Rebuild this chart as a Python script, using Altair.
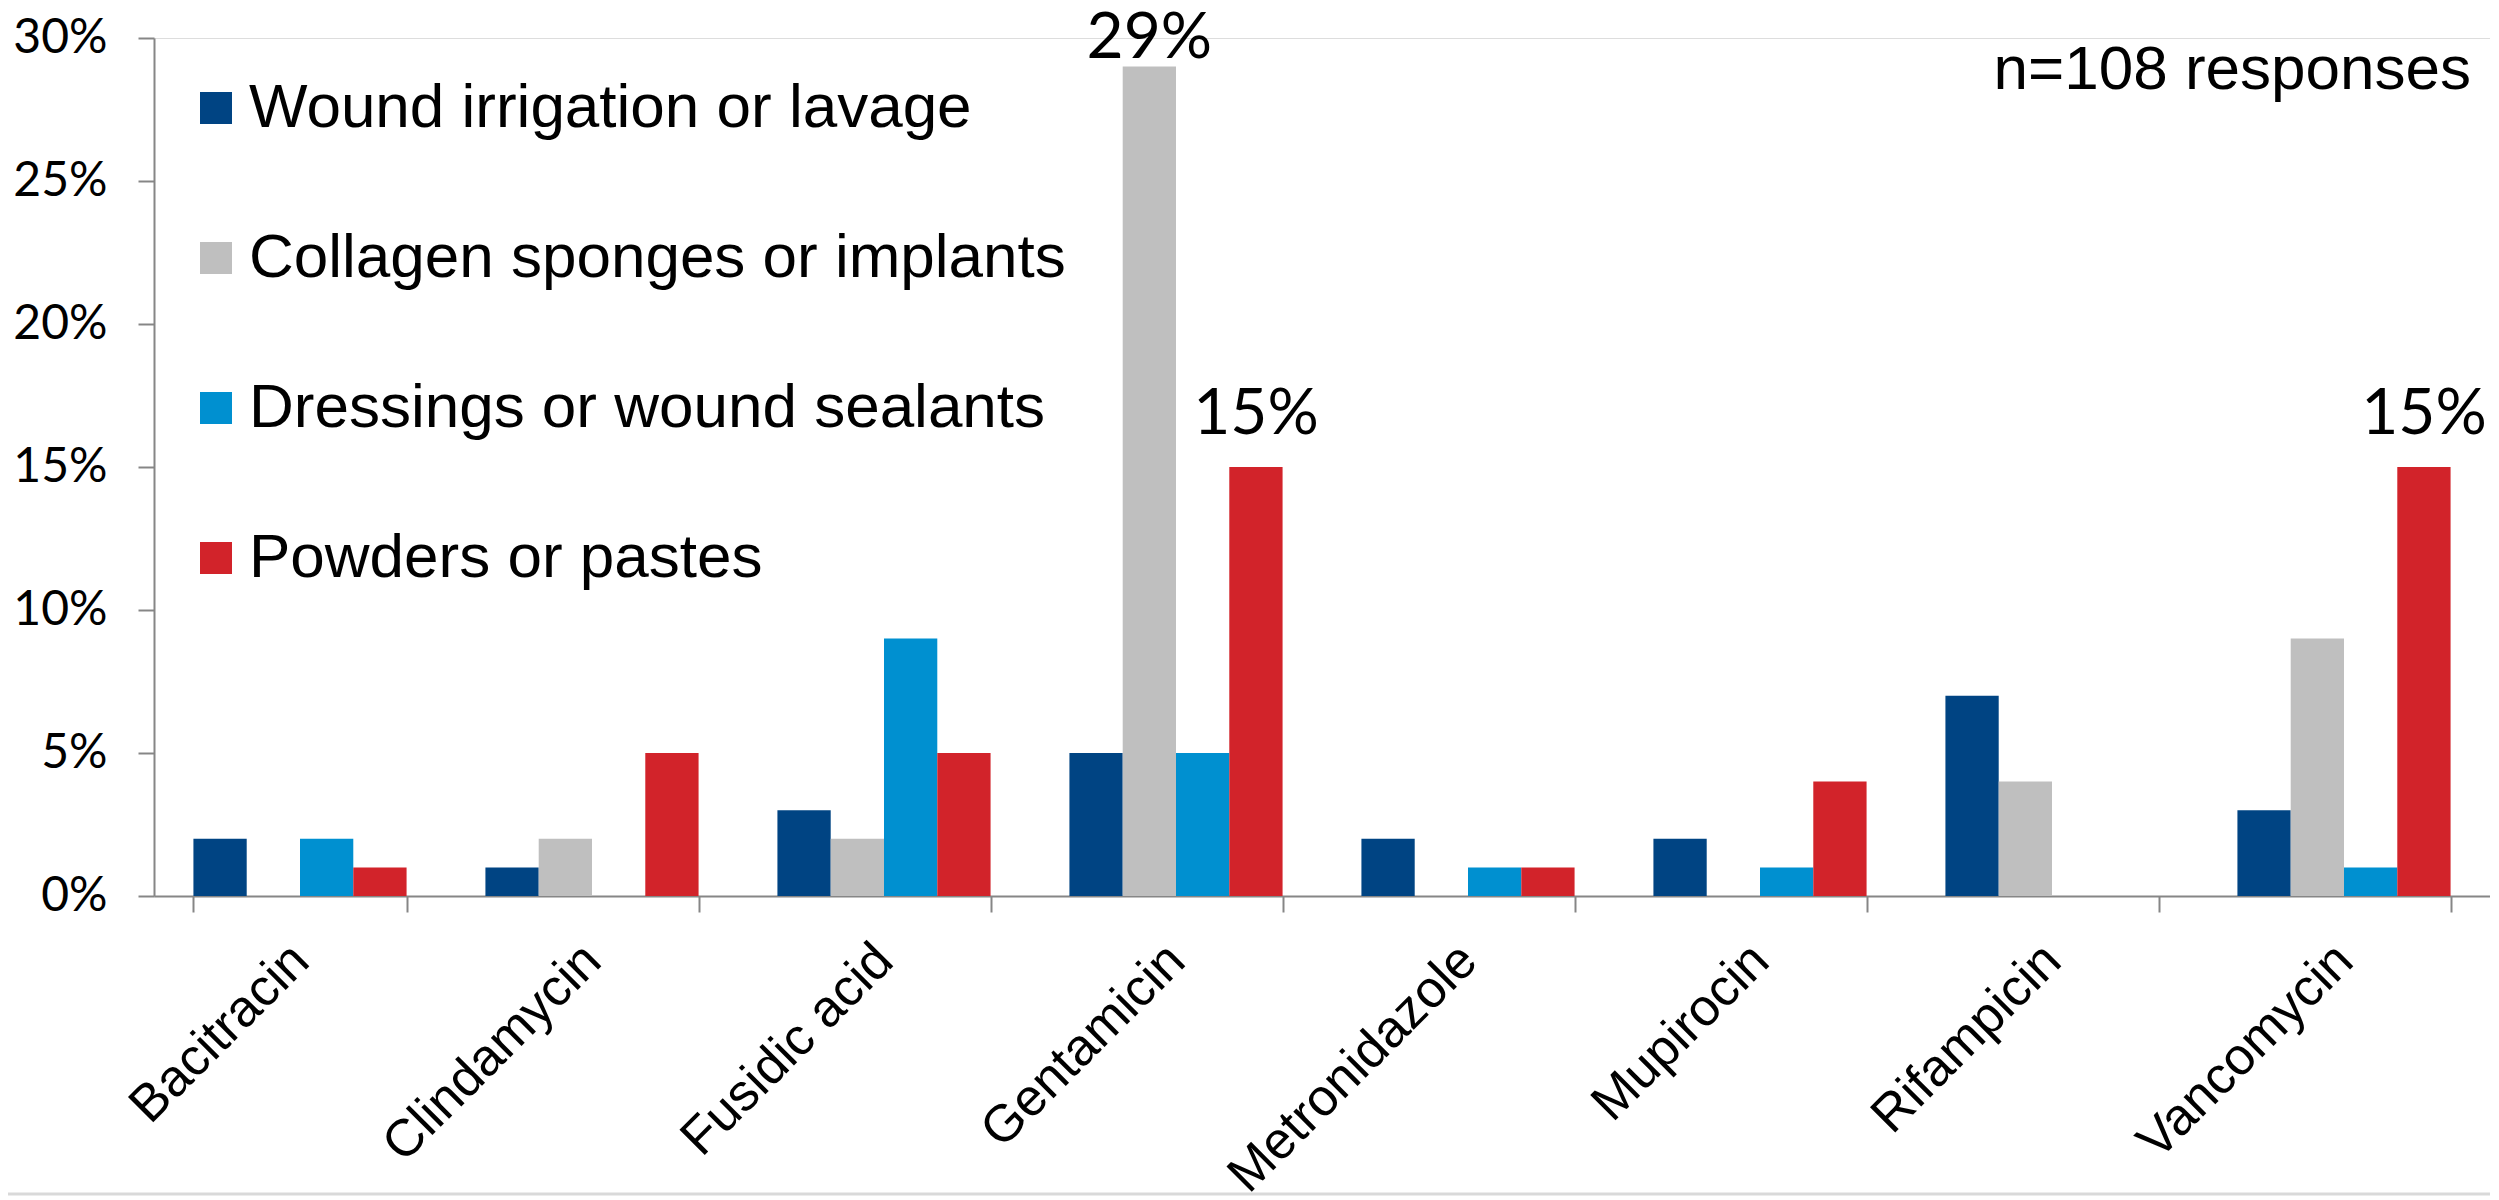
import altair as alt
import pandas as pd

categories = ["Bacitracin", "Clindamycin", "Fusidic acid", "Gentamicin",
              "Metronidazole", "Mupirocin", "Rifampicin", "Vancomycin"]
series = ["Wound irrigation or lavage", "Collagen sponges or implants",
          "Dressings or wound sealants", "Powders or pastes"]
colors = ["#004483", "#BFBFBF", "#0090D0", "#D2232A"]

wound = [2, 1, 3, 5, 2, 2, 7, 3]
collagen = [0, 2, 2, 29, 0, 0, 4, 9]
dressings = [2, 0, 9, 5, 1, 1, 0, 1]
powders = [1, 5, 5, 15, 1, 4, 0, 15]

# annotated bars: (category, series, label)
annotations = [("Gentamicin", "Collagen sponges or implants", "29%"),
               ("Gentamicin", "Powders or pastes", "15%"),
               ("Vancomycin", "Powders or pastes", "15%")]

y_ticks = [0, 5, 10, 15, 20, 25, 30]
note = "n=108 responses"

rows = []
for s, vals in zip(series, [wound, collagen, dressings, powders]):
    for c, v in zip(categories, vals):
        lab = ""
        for ac, as_, al in annotations:
            if ac == c and as_ == s:
                lab = al
        rows.append({"category": c, "series": s, "value": v, "label": lab})
df = pd.DataFrame(rows)

W = 2336
H = 858
GRAY = "#868686"

x_enc = alt.X("category:N", sort=categories,
              scale=alt.Scale(domain=categories, paddingInner=0.27, paddingOuter=0.135),
              axis=alt.Axis(title=None, labelAngle=-45, labelAlign="right",
                            labelBaseline="middle", labelFont="Liberation Sans",
                            labelFontSize=52, labelColor="black", labelPadding=40,
                            labelLimit=2000, labelOverlap=False, tickBand="extent",
                            tickSize=16, tickColor=GRAY, tickWidth=2,
                            domainColor=GRAY, domainWidth=2, grid=False))
xo_enc = alt.XOffset("series:N", sort=series, scale=alt.Scale(domain=series))
y_enc = alt.Y("value:Q", scale=alt.Scale(domain=[0, 30], nice=False),
              axis=alt.Axis(title=None, values=y_ticks, labelExpr="datum.value + '%'",
                            labelFont="Lato", labelFontSize=48, labelColor="black",
                            labelPadding=31, tickSize=16, tickColor=GRAY, tickWidth=2,
                            domainColor=GRAY, domainWidth=2, grid=False))

base = alt.Chart(df).encode(x=x_enc, xOffset=xo_enc, y=y_enc)

bars = base.mark_bar().encode(
    color=alt.Color("series:N", sort=series,
                    scale=alt.Scale(domain=series, range=colors),
                    legend=alt.Legend(title=None, orient="none", legendX=31, legendY=39,
                                      symbolType="square", symbolSize=1024,
                                      symbolStrokeWidth=0, symbolOpacity=1,
                                      labelFont="Liberation Sans", labelFontSize=62,
                                      labelColor="black", labelOffset=2,
                                      rowPadding=88, padding=0, labelLimit=2000))
)

text29 = base.transform_filter("datum.label == '29%'").mark_text(
    baseline="alphabetic", dy=-9, font="Lato", fontSize=64, color="black"
).encode(text="label:N")

text15 = base.transform_filter("datum.label == '15%'").mark_text(
    baseline="alphabetic", dy=-33, font="Lato", fontSize=64, color="black"
).encode(text="label:N")

note_layer = alt.Chart(pd.DataFrame({"t": [note]})).mark_text(
    align="right", baseline="alphabetic", font="Liberation Sans", fontSize=62, color="black"
).encode(x=alt.value(2317), y=alt.value(51), text="t:N")

frame_line = alt.Chart(pd.DataFrame({"a": [0]})).mark_rule(
    color="#D9D9D9", strokeWidth=3
).encode(x=alt.value(-146), x2=alt.value(W + 10), y=alt.value(H + 298))

chart = alt.layer(bars, text29, text15, note_layer, frame_line).properties(
    width=W, height=H,
    autosize=alt.AutoSizeParams(type="none"),
    padding={"left": 146, "top": 30, "right": 0, "bottom": 300},
).configure_view(strokeWidth=0).configure(background="white")

chart.save("out.html", embed_options={"renderer": "svg", "actions": False})
